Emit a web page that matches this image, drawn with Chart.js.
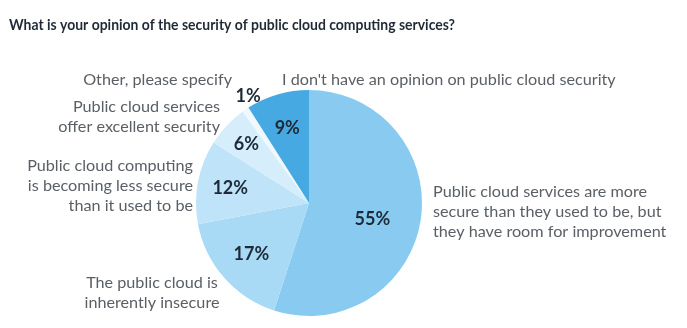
<!DOCTYPE html>
<html>
<head>
<meta charset="utf-8">
<script src="https://cdn.jsdelivr.net/npm/chart.js@4"></script>
<style>
  html, body { margin: 0; padding: 0; background: #fff; }
  #wrap { width: 687px; height: 328px; }
</style>
</head>
<body>
<div id="wrap"><canvas id="myChart" width="687" height="328"></canvas></div>
<script>
// survey answers, clockwise from 12 o'clock
const categories = [
  ["Public cloud services are more", "secure than they used to be, but", "they have room for improvement"],
  ["The public cloud is", "inherently insecure"],
  ["Public cloud computing", "is becoming less secure", "than it used to be"],
  ["Public cloud services", "offer excellent security"],
  ["Other, please specify"],
  ["I don't have an opinion on public cloud security"]
]
const shares = [55, 17, 12, 6, 1, 9]
const sliceColors = ["#89cbf0", "#a8d9f5", "#bfe3f8", "#d6eefb", "#eef8fd", "#47a9e1"]

const chartTitle = "What is your opinion of the security of public cloud computing services?"

// where each answer's caption sits, and how far out the percentage goes
const captionSpots = [
  { x: 433, y: 192, align: "left" },
  { x: 152, y: 283, align: "center" },
  { x: 193, y: 166, align: "right" },
  { x: 220, y: 107, align: "right" },
  { x: 232, y: 80, align: "right" },
  { x: 282, y: 80, align: "left" }
]
const pctRadius = [0.58, 0.68, 0.71, 0.76, 1.09, 0.69]
const pctTurn = [0.1, 0, 0, 0, 0.08, 0]

const textFont = "Lato, 'Open Sans', sans-serif"

const labelsPlugin = {
  id: "surveyLabels",
  afterDraw(chart) {
    const ctx = chart.ctx
    ctx.save()

    // title is set in a narrow face, squeeze it a bit
    ctx.fillStyle = "#1f2a36"
    ctx.font = "bold 16px " + textFont
    ctx.textAlign = "left"
    ctx.textBaseline = "middle"
    const tw = ctx.measureText(chartTitle).width
    ctx.save()
    ctx.translate(9, 25)
    ctx.scale(446 / tw, 1)
    ctx.fillText(chartTitle, 0, 0)
    ctx.restore()

    // captions
    ctx.fillStyle = "#5a5f66"
    ctx.font = "16.2px " + textFont
    categories.forEach((lines, i) => {
      const spot = captionSpots[i]
      ctx.textAlign = spot.align
      lines.forEach((line, j) => {
        ctx.fillText(line, spot.x, spot.y + j * 20)
      })
    })

    // percentages inside the slices
    const arcs = chart.getDatasetMeta(0).data
    ctx.fillStyle = "#1e2a38"
    ctx.font = "bold 18px " + textFont
    ctx.textAlign = "center"
    arcs.forEach((arc, i) => {
      const mid = (arc.startAngle + arc.endAngle) / 2 + pctTurn[i]
      const r = arc.outerRadius * pctRadius[i]
      ctx.fillText(shares[i] + "%", arc.x + Math.cos(mid) * r, arc.y + Math.sin(mid) * r)
    })

    ctx.restore()
  }
}

new Chart(document.getElementById("myChart"), {
  type: "pie",
  data: {
    labels: categories.map(l => l.join(" ")),
    datasets: [{
      data: shares,
      backgroundColor: sliceColors,
      borderWidth: 0
    }]
  },
  options: {
    responsive: false,
    animation: false,
    layout: { padding: { left: 196, right: 265, top: 90, bottom: 12 } },
    plugins: {
      legend: { display: false },
      tooltip: { enabled: false }
    }
  },
  plugins: [labelsPlugin]
})
</script>
</body>
</html>
